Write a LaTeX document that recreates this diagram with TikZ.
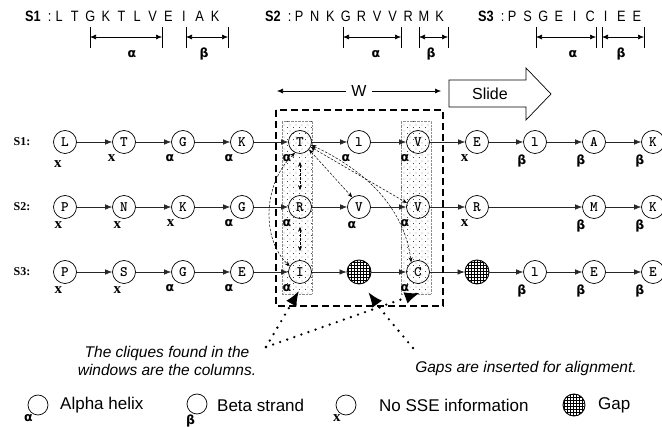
\documentclass[tikz,border=0pt]{standalone}
\usepackage{fontspec}
\setmainfont{Liberation Serif}
\setsansfont{Liberation Sans}
\newfontfamily\seqfont[FakeStretch=0.85]{Liberation Sans}
\newfontfamily\grkfont{DejaVu Sans}
\usepackage{tikz}
\usetikzlibrary{arrows.meta,patterns,positioning,calc}

% sparse dots for the clique columns
\pgfdeclarepatternformonly{sparse dots}{\pgfqpoint{-0.5pt}{-0.5pt}}{\pgfqpoint{5.5pt}{5.5pt}}{\pgfqpoint{6pt}{6pt}}{%
  \pgfpathcircle{\pgfqpoint{0pt}{0pt}}{0.45pt}%
  \pgfpathcircle{\pgfqpoint{3pt}{3pt}}{0.45pt}%
  \pgfusepath{fill}}

\newcommand{\al}{{\grkfont\bfseries α}}
\newcommand{\be}{{\grkfont\bfseries β}}
\newcommand{\nx}{{\fontsize{15}{15}\selectfont\bfseries x}}

% sequence name and its letters, evenly pitched
\newcommand{\seqrow}[2]{\textbf{#1}\hspace{7pt}:\hspace{0pt}%
  \foreach \c in {#2}{\makebox[15.6pt]{\c}}}

% one SSE span under a sequence
\newcommand{\ssespan}[4]{%
  \draw[spanbar] (#1,27) -- (#1,48);
  \draw[spanbar] (#2,27) -- (#2,48);
  \draw[spanarr] (#1,37) -- (#2,37);
  \node[sselbl] at (#3,54) {#4};}

\tikzset{
  res/.style={draw, circle, minimum size=23pt, inner sep=0pt, line width=0.7pt,
    font=\fontsize{14.5}{14.5}\selectfont\ttfamily\bfseries},
  gapres/.style={draw, circle, minimum size=24pt, inner sep=0pt, line width=0.9pt, pattern=grid},
  sse/.style={inner sep=0pt, label distance=3pt, font=\fontsize{12.5}{12.5}\selectfont},
  sselbl/.style={inner sep=0pt, font=\fontsize{12.5}{12.5}\selectfont},
  link/.style={-{Latex[length=7pt,width=5.5pt]}, draw=black!85, line width=0.6pt},
  clique/.style={{Stealth[length=5pt,width=4pt]}-{Stealth[length=5pt,width=4pt]},
    dash pattern=on 2.5pt off 1.5pt, line width=0.5pt},
  colbox/.style={draw=black!45, densely dotted, pattern=sparse dots, minimum width=30pt,
    minimum height=173pt, inner sep=0pt},
  window/.style={line width=1.6pt, dash pattern=on 7pt off 4pt},
  pointer/.style={line width=2.6pt, line cap=round, dash pattern=on 0pt off 7.5pt,
    -{Latex[length=15pt,width=12pt]}},
  spanbar/.style={line width=0.9pt},
  spanarr/.style={{Latex[length=6pt,width=5pt]}-{Latex[length=6pt,width=5pt]}, line width=0.6pt},
  rowlbl/.style={font=\fontsize{12}{12}\selectfont\bfseries},
  seqtxt/.style={anchor=west, inner sep=0pt, font=\seqfont\fontsize{15}{15}\selectfont},
  note/.style={font=\sffamily\itshape\fontsize{15.5}{18}\selectfont, align=center},
  legtxt/.style={anchor=west, inner sep=0pt, font=\sffamily\fontsize{17}{17}\selectfont},
  legres/.style={draw, circle, minimum size=20pt, inner sep=0pt, line width=0.7pt}
}

\begin{document}
\begin{tikzpicture}[x=1pt, y=-1pt]
\useasboundingbox (0,0) rectangle (662,427);

% sequences and their SSE spans
\node[seqtxt] (seq1) at (25,16) {\seqrow{S1}{L,T,G,K,T,L,V,E,I,A,K}};
\node[seqtxt] (seq2) at (265,16) {\seqrow{S2}{P,N,K,G,R,V,V,R,M,K}};
\node[seqtxt] (seq3) at (478,16) {\seqrow{S3}{P,S,G,E,I,C,I,E,E}};
\ssespan{90}{162}{132}{\al}
\ssespan{186}{228}{204}{\be}
\ssespan{343}{401}{376}{\al}
\ssespan{419}{448}{431}{\be}
\ssespan{536}{596}{573}{\al}
\ssespan{602}{644}{621}{\be}

% window width and slide arrow
\coordinate (wl) at (277,91);
\coordinate (wr) at (441,91);
\draw[spanarr] (wl) -- (wr)
  node[midway, fill=white, inner ysep=1pt, inner xsep=5pt, font=\sffamily\fontsize{16}{16}\selectfont] (wtxt) {W};
\draw[line width=0.7pt] (449,80) -- (526,80) -- (526,68) -- (551,94) -- (526,120) -- (526,107) -- (449,107) -- cycle;
\node[font=\sffamily\fontsize{16}{16}\selectfont] (slide) at (490,94) {Slide};

% clique columns
\node[colbox] (col1) at (297,207.5) {};
\node[colbox] (col2) at (416,207.5) {};

% row labels
\node[rowlbl] (r1) at (22,142) {S1:};
\node[rowlbl] (r2) at (22,207) {S2:};
\node[rowlbl] (r3) at (22,272) {S3:};

% S1
\node[res, label={[sse,label distance=7pt]-100:\nx}] (s1a) at (65,142) {L};
\node[res, label={[sse]-125:\nx}] (s1b) at (124,142) {T};
\node[res, label={[sse]-125:\al}] (s1c) at (183,142) {G};
\node[res, label={[sse]-125:\al}] (s1d) at (242,142) {K};
\node[res, label={[sse]-125:\al}] (s1e) at (300,142) {T};
\node[res, label={[sse]-125:\al}] (s1f) at (359,142) {l};
\node[res, label={[sse]-125:\al}] (s1g) at (418,142) {V};
\node[res, label={[sse]-125:\nx}] (s1h) at (477,142) {E};
\node[res, label={[sse]-125:\be}] (s1i) at (535,142) {l};
\node[res, label={[sse]-125:\be}] (s1j) at (594,142) {A};
\node[res, label={[sse]-125:\be}] (s1k) at (653,142) {K};

% S2
\node[res, label={[sse]-100:\nx}] (s2a) at (65,207) {P};
\node[res, label={[sse]-100:\nx}] (s2b) at (124,207) {N};
\node[res, label={[sse]-125:\nx}] (s2c) at (183,207) {K};
\node[res, label={[sse]-125:\al}] (s2d) at (242,207) {G};
\node[res, label={[sse]-125:\al}] (s2e) at (300,207) {R};
\node[res, label={[sse]-100:\al}] (s2f) at (359,207) {V};
\node[res, label={[sse]-125:\al}] (s2g) at (418,207) {V};
\node[res, label={[sse]-125:\nx}] (s2h) at (477,207) {R};
\node[res, label={[sse]-125:\be}] (s2j) at (594,207) {M};
\node[res, label={[sse]-125:\be}] (s2k) at (653,207) {K};

% S3
\node[res, label={[sse]-100:\nx}] (s3a) at (65,272) {P};
\node[res, label={[sse]-100:\nx}] (s3b) at (124,272) {S};
\node[res, label={[sse]-125:\al}] (s3c) at (183,272) {G};
\node[res, label={[sse]-125:\al}] (s3d) at (242,272) {E};
\node[res, label={[sse]-125:\al}] (s3e) at (300,272) {I};
\node[gapres] (s3f) at (359,272) {};
\node[res, label={[sse]-125:\al}] (s3g) at (418,272) {C};
\node[gapres] (s3h) at (477,272) {};
\node[res, label={[sse]-125:\be}] (s3i) at (535,272) {l};
\node[res, label={[sse]-125:\be}] (s3j) at (594,272) {E};
\node[res, label={[sse]-125:\be}] (s3k) at (653,272) {E};

% residue links
\path (s1a) edge[link] (s1b) (s1b) edge[link] (s1c) (s1c) edge[link] (s1d)
      (s1d) edge[link] (s1e) (s1e) edge[link] (s1f) (s1f) edge[link] (s1g)
      (s1g) edge[link] (s1h) (s1h) edge[link] (s1i) (s1i) edge[link] (s1j)
      (s1j) edge[link] (s1k);
\path (s2a) edge[link] (s2b) (s2b) edge[link] (s2c) (s2c) edge[link] (s2d)
      (s2d) edge[link] (s2e) (s2e) edge[link] (s2f) (s2f) edge[link] (s2g)
      (s2g) edge[link] (s2h) (s2h) edge[link] (s2j) (s2j) edge[link] (s2k);
\path (s3a) edge[link] (s3b) (s3b) edge[link] (s3c) (s3c) edge[link] (s3d)
      (s3d) edge[link] (s3e) (s3e) edge[link] (s3f) (s3f) edge[link] (s3g)
      (s3g) edge[link] (s3h) (s3h) edge[link] (s3i) (s3i) edge[link] (s3j)
      (s3j) edge[link] (s3k);

% window
\draw[window] (276,110) rectangle (443,306);

% cliques
\draw[clique, shorten <=8pt, shorten >=5pt] (s1e) -- (s2e);
\draw[clique, shorten <=8pt, shorten >=9pt] (s2e) -- (s3e);
\draw[clique] (s1e.-115) .. controls (262,185) and (262,240) .. (s3e.150);
\draw[clique] (s1e.-40) -- (s2f.125);
\draw[clique] (s1e.-25) -- (s2g.160);
\draw[clique] (s1e.-15) .. controls (375,175) and (405,215) .. (s3g.125);

% notes and pointers
\node[note] (cqtxt) at (167,361) {The cliques found in the\\windows are the columns.};
\node[note] (gptxt) at (526,368) {Gaps are inserted for alignment.};
\coordinate (cq) at (266,347);
\coordinate (gp) at (413,348);
\draw[pointer, shorten >=-4pt] (cq) -- (col1.south);
\draw[pointer, shorten >=-4pt] (cq) -- (col2.south);
\draw[pointer, shorten >=10pt] (gp) .. controls (386,316) .. (s3f.-75);

% legend
\node[legres, label={[sse,label distance=0pt]-120:\al}] (lga) at (38,405) {};
\node[legtxt] (lgat) at (60,405) {Alpha helix};
\node[legres, label={[sse,label distance=0pt]-100:\be}] (lgb) at (197,404) {};
\node[legtxt] (lgbt) at (217,405) {Beta strand};
\node[legres, label={[sse,label distance=0pt]-120:\nx}] (lgc) at (346,405) {};
\node[legtxt] (lgct) at (379,405) {No SSE information};
\node[gapres, minimum size=22pt] (lgd) at (574,405) {};
\node[legtxt] (lgdt) at (598,405) {Gap};
\end{tikzpicture}
\end{document}
